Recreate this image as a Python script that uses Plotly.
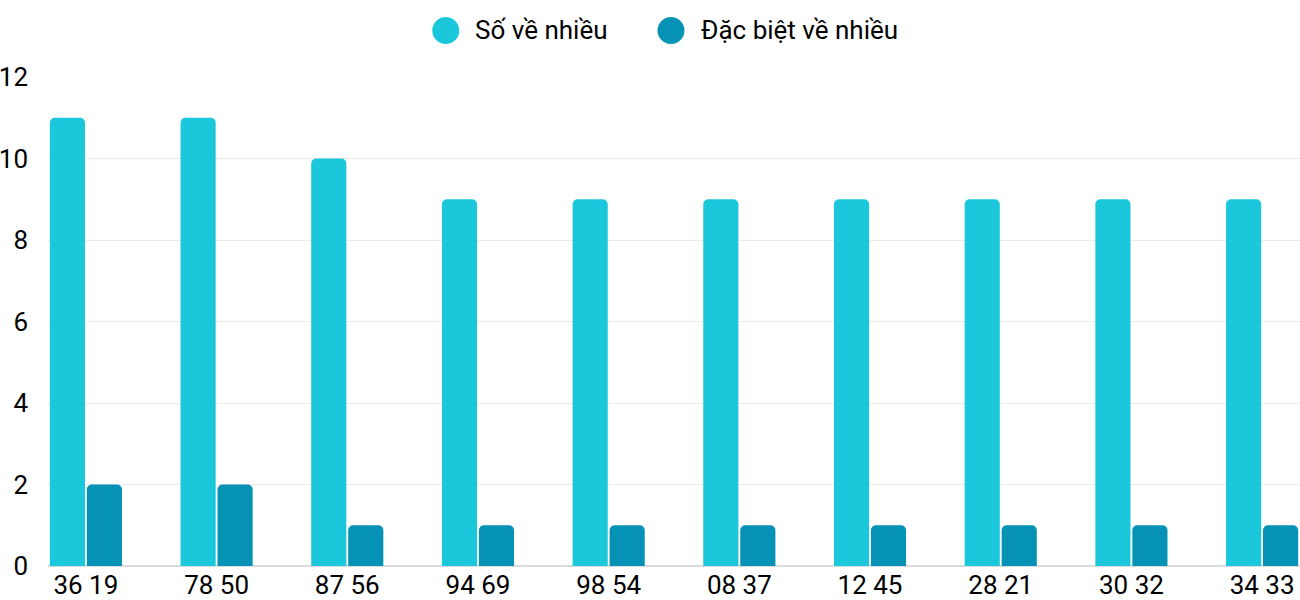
import plotly.graph_objects as go

categories = ["36 19", "78 50", "87 56", "94 69", "98 54", "08 37", "12 45", "28 21", "30 32", "34 33"]
so_ve_nhieu = [11, 11, 10, 9, 9, 9, 9, 9, 9, 9]
dac_biet_ve_nhieu = [2, 2, 1, 1, 1, 1, 1, 1, 1, 1]
series_names = ["Số về nhiều", "Đặc biệt về nhiều"]
colors = ["#1BC8DB", "#0592B4"]

FONT = "Roboto, Arial, sans-serif"
FS = 26

fig = go.Figure()
for name, vals, col in zip(series_names, [so_ve_nhieu, dac_biet_ve_nhieu], colors):
    fig.add_trace(go.Bar(x=categories, y=vals, name=name, marker=dict(color=col, line=dict(width=0)),
                         showlegend=False))

# custom legend (circle swatches + labels) at top centre
legend_pos = [(0.3177, 0.3395), (0.4976, 0.5200)]
LY = 1.0951
for (cx, tx), name, col in zip(legend_pos, series_names, colors):
    fig.add_shape(type="circle", xref="paper", yref="paper", xsizemode="pixel", ysizemode="pixel",
                  xanchor=cx, yanchor=LY, x0=-13.5, x1=13.5, y0=-13.5, y1=13.5,
                  fillcolor=col, line=dict(width=0))
    fig.add_annotation(x=tx, y=LY, xref="paper", yref="paper", text=name, showarrow=False,
                       xanchor="left", yanchor="middle", font=dict(size=FS, color="#000", family=FONT))

fig.update_layout(
    width=1300, height=600,
    margin=dict(l=48, r=0, t=77, b=34, autoexpand=False),
    paper_bgcolor="white", plot_bgcolor="white",
    barmode="group", bargap=0.434, bargroupgap=0.05,
    barcornerradius=5,
    showlegend=False,
    font=dict(family=FONT, size=FS, color="#000"),
    xaxis=dict(type="category", range=[-0.29, 9.29], showgrid=False, ticks="", automargin=False,
               tickfont=dict(size=FS, color="#000"), showline=False, zeroline=False, fixedrange=True,
               ticklabelstandoff=1),
    yaxis=dict(range=[0, 12], dtick=2, showgrid=True, gridcolor="#ebebeb", gridwidth=1, automargin=False,
               zeroline=True, zerolinecolor="#dcdcdc", zerolinewidth=1.5, ticks="",
               tickfont=dict(size=FS, color="#000"), ticklabelstandoff=19, fixedrange=True),
)
fig.write_html("out.html", config={"displayModeBar": False},
               post_script="document.body.style.margin='0';document.body.style.overflow='hidden';")
